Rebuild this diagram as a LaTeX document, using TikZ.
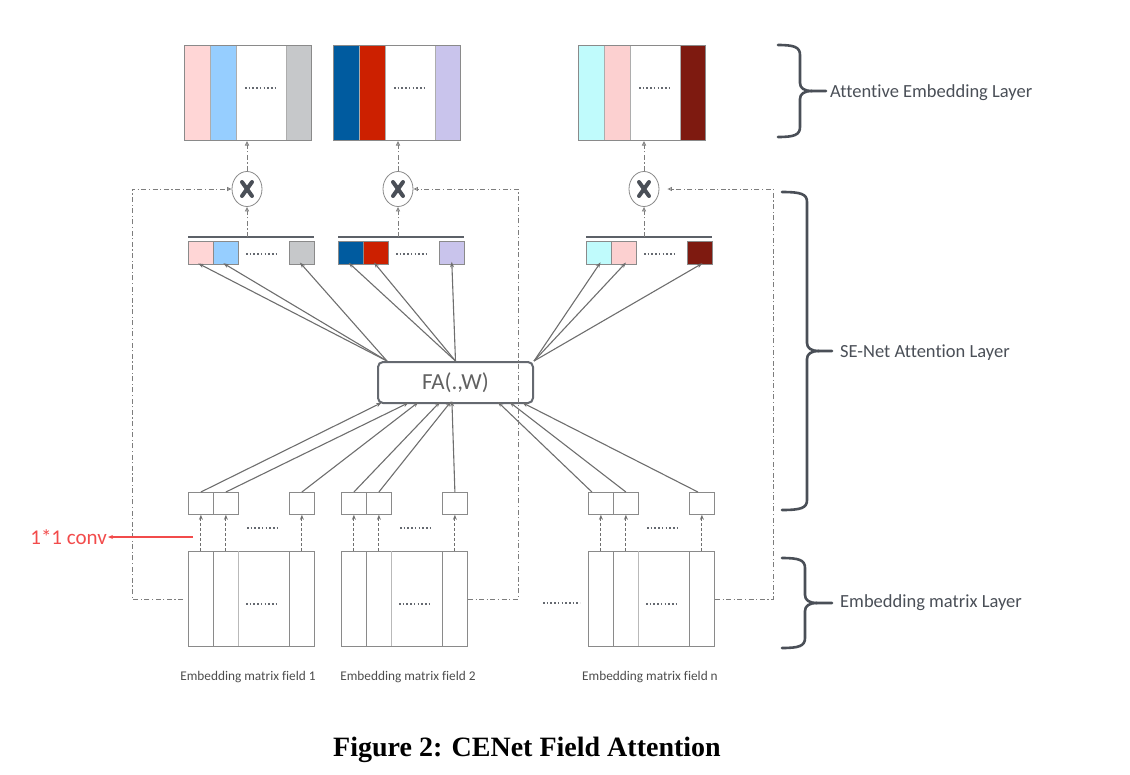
\documentclass[tikz,border=0pt]{standalone}
\usepackage{fontspec}
\setmainfont{Carlito}[Ligatures=NoCommon]
\newfontfamily\capfont{Liberation Serif}
\usetikzlibrary{arrows.meta,calc,shapes.geometric}

\definecolor{pinkA}{HTML}{FFD6D6}
\definecolor{blueA}{HTML}{96CEFF}
\definecolor{grayA}{HTML}{C6C8CA}
\definecolor{navyA}{HTML}{005B9F}
\definecolor{redA}{HTML}{CC2000}
\definecolor{lavA}{HTML}{C9C4EC}
\definecolor{cyanA}{HTML}{C0FBFC}
\definecolor{pinkB}{HTML}{FCD0D0}
\definecolor{maroonA}{HTML}{7E1A10}
\definecolor{edge}{HTML}{8A8A8A}
\definecolor{wire}{HTML}{6E6E6E}
\definecolor{dark}{HTML}{4A4F57}
\definecolor{convred}{HTML}{F24B4B}

\newcommand{\layerbrace}[5]{% start x, spine x, tip x, top y, bottom y
  \pgfmathsetmacro{\bmid}{(#4+#5)/2}
  \draw[brace] (#1,#4) .. controls (#2-6,#4) and (#2,#4+2) .. (#2,#4+10)
    -- (#2,\bmid-8) .. controls (#2,\bmid-3) and (#2+4,\bmid) .. (#2+12,\bmid) -- (#3,\bmid);
  \draw[brace] (#2+12,\bmid) .. controls (#2+4,\bmid) and (#2,\bmid+3) .. (#2,\bmid+8)
    -- (#2,#5-10) .. controls (#2,#5-2) and (#2-6,#5) .. (#1,#5);
}

\begin{document}
\begin{tikzpicture}[x=1pt,y=-1pt,
  stripe/.style={draw=edge!70, line width=0.5pt, inner sep=0pt, minimum height=95},
  frame/.style={draw=edge, line width=1pt, inner sep=0pt},
  sebox/.style={draw=edge, line width=0.8pt, inner sep=0pt, minimum width=25, minimum height=23},
  cbox/.style={draw=edge, line width=0.8pt, fill=white, inner sep=0pt, minimum width=25, minimum height=22},
  mult/.style={ellipse, draw=edge, line width=0.8pt, fill=white, inner sep=0pt, minimum width=30, minimum height=35},
  cross/.style={draw=dark, line width=4pt, line cap=round},
  bar/.style={draw=dark!90, line width=2pt},
  dotrow/.style={draw=dark!85, line width=1.8pt, dash pattern=on 1.6pt off 2.1pt},
  fbk/.style={draw=wire!90, line width=0.9pt, dash pattern=on 5pt off 2.5pt on 1.2pt off 2.5pt,
    -{Triangle[open,length=4.5pt,width=4pt]}},
  upline/.style={draw=wire, line width=0.9pt, dash pattern=on 3pt off 2pt,
    -{Stealth[open,length=5pt,width=4pt]}},
  conn/.style={draw=wire, line width=1.1pt, -{Stealth[length=5.5pt,width=4pt]}},
  brace/.style={draw=dark, line width=2.6pt, line cap=round},
  layerlbl/.style={text=dark, font=\fontsize{18.5}{20}\selectfont, inner sep=0pt, anchor=west},
  fieldlbl/.style={text=black!70, font=\fontsize{13.3}{14}\selectfont, inner sep=0pt},
]
\useasboundingbox (0,0) rectangle (1130,774);

% three field groups: attentive embedding, SE weights, multiplier, convolutions, embedding matrix
\foreach \g/\T/\S/\M/\C/\ca/\cb/\cc/\lx/\lab in {
    1/184/188/188/247/pinkA/blueA/grayA/248/1,
    2/333/338/341/398/navyA/redA/lavA/408/2,
    3/578/586/588/644/cyanA/pinkB/maroonA/650/n}{
  % attentive embedding block
  \node[stripe, fill=\ca, minimum width=26, anchor=north west] (ta\g) at (\T,45) {};
  \node[stripe, fill=\cb, minimum width=26, anchor=north west] (tb\g) at (\T+26,45) {};
  \node[stripe, fill=white, minimum width=50, anchor=north west] (tc\g) at (\T+52,45) {};
  \node[stripe, fill=\cc, minimum width=25, anchor=north west] (td\g) at (\T+102,45) {};
  \node[frame, minimum width=127, minimum height=95, anchor=north west] (att\g) at (\T,45) {};
  \draw[dotrow] (\T+61,88) -- (\T+93,88);
  % field attention weights
  \node[sebox, fill=\ca, anchor=north west] (sa\g) at (\S,241) {};
  \node[sebox, fill=\cb, anchor=north west] (sb\g) at (\S+25,241) {};
  \node[sebox, fill=\cc, anchor=north west] (sc\g) at (\S+101,241) {};
  \draw[dotrow] (\S+58,254) -- (\S+90,254);
  \coordinate (barL\g) at (\S,237);
  \coordinate (barR\g) at (\S+126,237);
  \coordinate (barM\g) at (\C,237);
  \draw[bar] (barL\g) -- (barR\g);
  % element-wise product
  \node[mult] (mul\g) at (\C,189) {};
  \draw[cross] ($(mul\g)+(-5,-7)$) -- ($(mul\g)+(5,7)$);
  \draw[cross] ($(mul\g)+(5,-7)$) -- ($(mul\g)+(-5,7)$);
  \draw[fbk] (barM\g) -- (mul\g.south);
  \draw[fbk] (mul\g.north) -- (mul\g.north |- att\g.south);
  % 1*1 convolution outputs
  \node[cbox, anchor=north west] (ca\g) at (\M,492) {};
  \node[cbox, anchor=north west] (cb\g) at (\M+25,492) {};
  \node[cbox, anchor=north west] (cc\g) at (\M+101,492) {};
  \draw[dotrow] (\M+59,528) -- (\M+91,528);
  % embedding matrix
  \node[frame, minimum width=126, minimum height=95, anchor=north west] (mat\g) at (\M,551) {};
  \draw[edge, line width=0.8pt] (\M+25,551) -- (\M+25,646);
  \draw[edge!60, line width=0.6pt] (\M+50,551) -- (\M+50,646);
  \draw[edge, line width=0.8pt] (\M+101,551) -- (\M+101,646);
  \draw[dotrow] (\M+58,604) -- (\M+90,604);
  \foreach \b in {ca,cb,cc}
    \draw[upline] (\b\g.south |- mat\g.north) -- (\b\g.south);
  \node[fieldlbl] (flbl\g) at (\lx,677) {Embedding matrix field \lab};
}
\draw[dotrow] (543,603) -- (580,603);

% field attention function
\node[draw=dark!85, line width=2pt, rounded corners=5pt, minimum width=155, minimum height=41,
  inner sep=0pt, text=black!62, font=\fontsize{23}{24}\selectfont] (fa) at (455.5,382.5) {FA(.,W)};

\coordinate (faP1) at ($(fa.north west)+(10,0)$);
\coordinate (faP2) at (fa.north);
\coordinate (faP3) at (fa.north east);
\foreach \g in {1,2,3}
  \foreach \b in {sa,sb,sc}
    \draw[conn, shorten >=-3pt] (faP\g) -- (\b\g.south);

\foreach \b/\dx in {ca1/2, cb1/29, cc1/39, ca2/61, cb2/72, cc2/75, cb3/135}
  \draw[conn, shorten >=-3pt] (\b.north) -- ($(fa.south west)+(\dx,0)$);
\draw[conn, shorten >=-3pt] ($(ca3.north)+(-9,0)$) -- ($(fa.south west)+(123,0)$);
\draw[conn, shorten >=-3pt] ($(cc3.north)+(-4,0)$) -- ($(fa.south west)+(148,0)$);

% side paths carrying the embedding matrix to the product
\draw[fbk, shorten <=5pt] (mat1.west) -| (132,189) -- (mul1.west);
\draw[fbk] (mat2.east) -| (518,189) -- (mul2.east);
\draw[fbk, shorten >=8pt] (mat3.east) -| (773,189) -- (mul3.east);

% 1*1 conv annotation
\node[text=convred, font=\fontsize{21}{22}\selectfont, inner sep=1pt, anchor=east] (convlbl) at (108,537) {1*1 conv};
\coordinate (convsrc) at (193,537);
\draw[convred, line width=1.2pt, -{Stealth[length=5pt,width=4pt]}] (convsrc) -- (convlbl.east);

% layer braces
\layerbrace{778}{800}{826}{45}{137}
\node[layerlbl] (lyr1) at (830,93) {Attentive Embedding Layer};
\layerbrace{782}{807}{832}{192}{510}
\node[layerlbl] (lyr2) at (840,353) {SE-Net Attention Layer};
\layerbrace{782}{805}{832}{558}{648}
\node[layerlbl] (lyr3) at (840,603) {Embedding matrix Layer};

% caption
\node[font=\capfont\bfseries\fontsize{28}{30}\selectfont, inner sep=0pt] (cap) at (527,750) {Figure 2: CENet Field Attention};
\end{tikzpicture}
\end{document}
